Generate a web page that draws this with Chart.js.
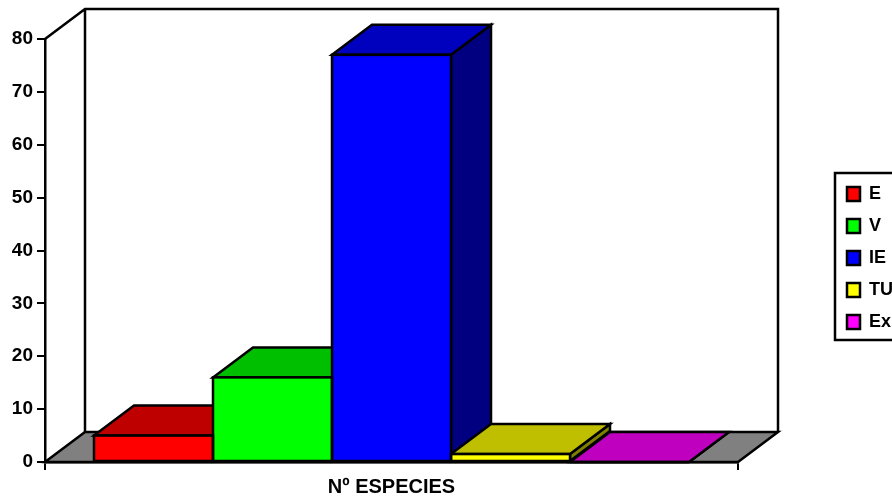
<!DOCTYPE html>
<html>
<head>
<meta charset="utf-8">
<style>html,body{margin:0;padding:0;background:#fff}canvas{display:block}</style>
<script src="https://cdn.jsdelivr.net/npm/chart.js@4"></script>
</head>
<body>
<canvas id="c" width="892" height="500"></canvas>
<script>
const categories = ["Nº ESPECIES"];
const seriesNames = ["E", "V", "IE", "TU", "Ex"];
const seriesValues = [5, 16, 77, 1.5, 0];
const seriesColors = ["#FF0000", "#00FF00", "#0000FF", "#FFFF00", "#FF00FF"];
const topColors = ["#BF0000", "#00BF00", "#0000BF", "#BFBF00", "#BF00BF"];
const sideColors = ["#800000", "#008000", "#000080", "#808000", "#800080"];

const DX = 40, DY = 30, LW = 2.5;

function poly(ctx, pts, fill) {
  ctx.beginPath();
  pts.forEach((p, i) => i ? ctx.lineTo(p[0], p[1]) : ctx.moveTo(p[0], p[1]));
  ctx.closePath();
  if (fill) { ctx.fillStyle = fill; ctx.fill(); }
  ctx.stroke();
}

const box3d = {
  id: "box3d",
  afterLayout(chart) {
    const l = chart.legend;
    l.left = 833; l.right = 900; l.top = 171; l.bottom = 400;
  },
  beforeDraw(chart) {
    const { ctx, chartArea: a } = chart;
    ctx.save();
    ctx.strokeStyle = "#000"; ctx.lineWidth = LW; ctx.lineJoin = "miter";
    poly(ctx, [[a.left, a.bottom], [a.left + DX, a.bottom - DY], [a.right + DX, a.bottom - DY], [a.right, a.bottom]], "#808080");
    ctx.beginPath();
    ctx.moveTo(a.left, a.top); ctx.lineTo(a.left + DX, a.top - DY);
    ctx.lineTo(a.right + DX, a.top - DY); ctx.lineTo(a.right + DX, a.bottom - DY);
    ctx.moveTo(a.left + DX, a.top - DY); ctx.lineTo(a.left + DX, a.bottom - DY);
    ctx.stroke();
    ctx.restore();
  },
  beforeDatasetsDraw(chart) {
    const { ctx } = chart;
    ctx.save();
    ctx.strokeStyle = "#000"; ctx.lineWidth = LW; ctx.lineJoin = "miter";
    chart.data.datasets.forEach((d, i) => {
      const b = chart.getDatasetMeta(i).data[0];
      const l = b.x - b.width / 2, r = b.x + b.width / 2, t = b.y, bt = b.base;
      poly(ctx, [[r, t], [r + DX, t - DY], [r + DX, bt - DY], [r, bt]], sideColors[i]);
      poly(ctx, [[l, t], [l + DX, t - DY], [r + DX, t - DY], [r, t]], topColors[i]);
    });
    ctx.restore();
  },
  afterDatasetsDraw(chart) {
    const { ctx } = chart;
    ctx.save();
    ctx.strokeStyle = "#000"; ctx.lineWidth = LW;
    chart.data.datasets.forEach((d, i) => {
      const b = chart.getDatasetMeta(i).data[0];
      ctx.strokeRect(b.x - b.width / 2, b.y, b.width, b.base - b.y);
    });
    ctx.restore();
  },
  afterDraw(chart) {
    const { ctx } = chart;
    ctx.save();
    ctx.strokeStyle = "#000"; ctx.lineWidth = 2.5;
    ctx.strokeRect(835, 173, 70, 167);
    ctx.restore();
  }
};

new Chart(document.getElementById("c"), {
  type: "bar",
  data: {
    labels: categories,
    datasets: seriesNames.map((n, i) => ({
      label: n,
      data: [seriesValues[i]],
      backgroundColor: seriesColors[i],
      borderWidth: 0,
      categoryPercentage: 0.8586,
      barPercentage: 1
    }))
  },
  options: {
    responsive: false,
    animation: false,
    devicePixelRatio: 1,
    layout: { padding: { top: 39, left: 0, right: 84, bottom: 0 } },
    plugins: {
      tooltip: { enabled: false },
      legend: {
        position: "right",
        align: "start",
        onClick: null,
        labels: {
          color: "#000",
          boxWidth: 13,
          boxHeight: 14,
          padding: 14,
          font: { family: "Liberation Sans", size: 18, weight: "bold" },
          generateLabels(chart) {
            const items = Chart.defaults.plugins.legend.labels.generateLabels(chart);
            items.forEach(it => { it.strokeStyle = "#000"; it.lineWidth = 2.5; });
            return items;
          }
        }
      }
    },
    scales: {
      x: {
        afterFit(s) { s.height = 38; },
        border: { color: "#000", width: 2.5 },
        grid: { color: "#000", lineWidth: 2, drawOnChartArea: false, tickLength: 8, tickWidth: 2, tickColor: "#000" },
        ticks: { color: "#000", padding: 5, font: { family: "Liberation Sans", size: 20, weight: "bold" } }
      },
      y: {
        min: 0, max: 80,
        afterFit(s) { s.width = 45; },
        border: { color: "#000", width: 2.5 },
        grid: { color: "#000", lineWidth: 2, drawOnChartArea: false, tickLength: 8, tickWidth: 2, tickColor: "#000" },
        ticks: { stepSize: 10, color: "#000", padding: 4, font: { family: "Liberation Sans", size: 19, weight: "bold" } }
      }
    }
  },
  plugins: [box3d]
});
</script>
</body>
</html>
